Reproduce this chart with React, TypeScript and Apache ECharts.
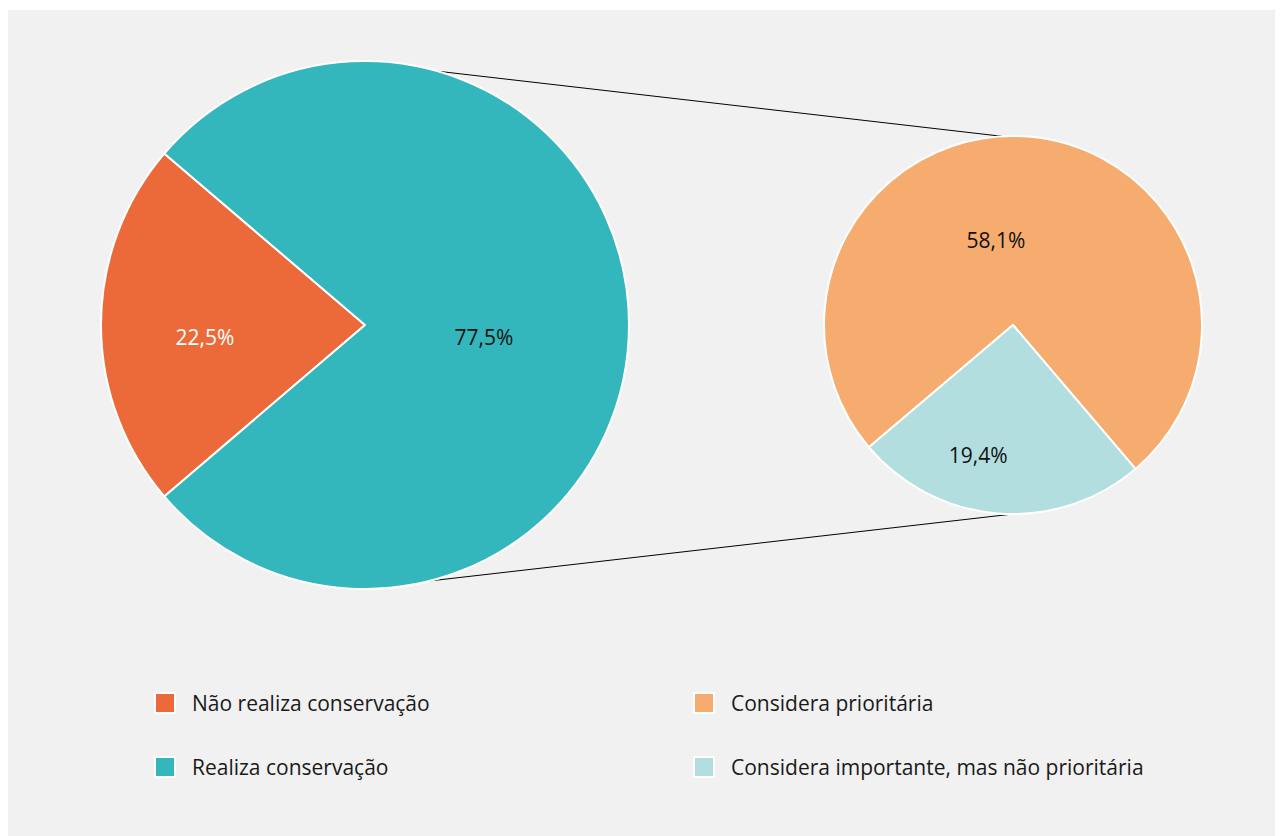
import React, { useEffect, useRef } from "react";
import * as echarts from "echarts";

const mainCategories = ["Não realiza conservação", "Realiza conservação"];
const mainValues = [22.5, 77.5];
const mainColors = ["#EC6A3A", "#33B7BC"];

const subCategories = ["Considera prioritária", "Considera importante, mas não prioritária"];
const subValues = [58.1, 19.4];
const subColors = ["#F5AC6E", "#B2DEDF"];

const W = 1275;
const H = 826;
const leftC = [357, 315];
const leftR = 264;
const rightC = [1005, 315];
const rightR = 189;

const fmt = (v: number) => v.toFixed(1).replace(".", ",") + "%";

export default function App() {
  const ref = useRef<HTMLDivElement>(null);
  useEffect(() => {
    if (!ref.current) return;
    const chart = echarts.init(ref.current, undefined, { renderer: "svg" });
    const font = "'Open Sans', 'Noto Sans', sans-serif";
    const ang = (d: number) => (d * Math.PI) / 180;
    const pt = (c: number[], r: number, a: number) => [c[0] + r * Math.cos(ang(a)), c[1] - r * Math.sin(ang(a))];
    const l1 = pt(leftC, leftR, 74);
    const r1 = pt(rightC, rightR, 93.3);
    const l2 = pt(leftC, leftR, -75.8);
    const r2 = pt(rightC, rightR, -90);
    const mainOffsets = [[-25, 12], [-16, 12]];
    const subOffsets = [[-25, 12], [-27, 33]];
    const legendBase = {
      orient: "vertical",
      top: 677,
      itemWidth: 20,
      itemHeight: 20,
      itemGap: 42,
      icon: "rect",
      itemStyle: { borderColor: "#fff", borderWidth: 2 },
      textStyle: { fontSize: 21, color: "#1a1a1a", fontFamily: font, padding: [0, 0, 0, 12] },
      selectedMode: false,
    };
    chart.setOption({
      animation: false,
      backgroundColor: "#F1F1F1",
      graphic: [
        { type: "line", shape: { x1: l1[0], y1: l1[1], x2: r1[0], y2: r1[1] }, style: { stroke: "#000", lineWidth: 1 }, z: 1 },
        { type: "line", shape: { x1: l2[0], y1: l2[1], x2: r2[0], y2: r2[1] }, style: { stroke: "#000", lineWidth: 1 }, z: 1 },
      ],
      legend: [
        { ...legendBase, data: mainCategories, left: 141 },
        { ...legendBase, data: subCategories, left: 680 },
      ],
      series: [
        {
          type: "pie",
          center: leftC,
          radius: [0, leftR],
          startAngle: 220.5,
          clockwise: true,
          z: 2,
          itemStyle: { borderColor: "#fff", borderWidth: 2 },
          label: {
            show: true,
            position: "inside",
            fontSize: 21,
            fontFamily: font,
            formatter: (p: any) => fmt(p.value),
          },
          labelLine: { show: false },
          emphasis: { disabled: true },
          data: mainCategories.map((n, i) => ({
            name: n,
            value: mainValues[i],
            itemStyle: { color: mainColors[i] },
            label: { color: i === 0 ? "#fff" : "#111", offset: mainOffsets[i] },
          })),
        },
        {
          type: "pie",
          center: rightC,
          radius: [0, rightR],
          startAngle: 220.3,
          clockwise: true,
          z: 2,
          itemStyle: { borderColor: "#fff", borderWidth: 2 },
          label: {
            show: true,
            position: "inside",
            fontSize: 21,
            fontFamily: font,
            color: "#111",
            formatter: (p: any) => fmt(p.value),
          },
          labelLine: { show: false },
          emphasis: { disabled: true },
          data: subCategories.map((n, i) => ({
            name: n,
            value: subValues[i],
            itemStyle: { color: subColors[i] },
            label: { offset: subOffsets[i] },
          })),
        },
      ],
    });
    return () => chart.dispose();
  }, []);
  return <div ref={ref} style={{ width: W, height: H, marginTop: 2 }} />;
}
